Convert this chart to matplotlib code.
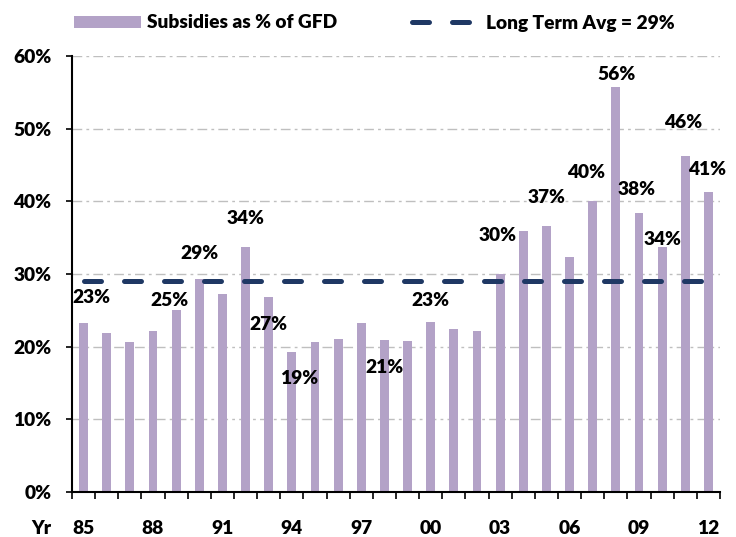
import matplotlib
matplotlib.use("Agg")
import matplotlib.pyplot as plt
import numpy as np
from matplotlib.lines import Line2D
from matplotlib.patches import Patch

years = list(range(1985, 2013))
subsidies = [23.2, 21.9, 20.6, 22.1, 25.0, 29.3, 27.2, 33.7, 26.9, 19.2,
             20.6, 21.0, 23.2, 20.9, 20.8, 23.4, 22.5, 22.1, 30.0, 35.9,
             36.6, 32.4, 40.0, 55.8, 38.4, 33.7, 46.3, 41.3]
long_term_avg = 29
label_years = [1985, 1989, 1990, 1992, 1993, 1994, 1998, 2000,
               2003, 2005, 2007, 2008, 2009, 2010, 2011, 2012]
tick_labels = ["85", "88", "91", "94", "97", "00", "03", "06", "09", "12"]

# where each value label sits: (x shift in bars, y level in %)
label_spots = {
    1985: (0.35, 26.7), 1989: (-0.3, 26.3), 1990: (0.0, 32.8),
    1992: (0.0, 37.6), 1993: (0.0, 23.1), 1994: (0.3, 15.6),
    1998: (0.0, 17.2), 2000: (0.0, 26.4), 2003: (-0.1, 35.3),
    2005: (0.0, 40.5), 2007: (-0.3, 44.0), 2008: (0.05, 57.5),
    2009: (-0.1, 41.6), 2010: (0.0, 34.7), 2011: (-0.1, 50.8),
    2012: (-0.05, 44.4),
}

plt.rcParams["font.family"] = ["Lato", "DejaVu Sans"]
fs = 13.8
wt = "heavy"
bar_color = "#B3A2C7"
line_color = "#1F3864"

fig = plt.figure(figsize=(7.36, 5.37), dpi=100)
ax = fig.add_axes([72 / 736, 45 / 537, 648 / 736, 436 / 537])

x = np.arange(len(years))
ax.bar(x, subsidies, width=0.38, color=bar_color, zorder=2)
ax.plot([x[0], x[-1]], [long_term_avg, long_term_avg], color=line_color,
        lw=3.6, dashes=(3.4, 4.6), dash_capstyle="round", zorder=3)

for yr in label_years:
    i = years.index(yr)
    dx, ly = label_spots[yr]
    ax.text(i + dx, ly, f"{subsidies[i]:.0f}%", ha="center", va="center",
            fontsize=fs, fontweight=wt, zorder=4)

ax.set_xlim(-0.5, len(years) - 0.5)
ax.set_ylim(0, 60)
ax.set_yticks(np.arange(0, 61, 10))
ax.set_yticklabels([f"{v}%" for v in range(0, 61, 10)], fontsize=fs, fontweight=wt)
ax.yaxis.grid(True, color="#BFBFBF", lw=1, linestyle=(0, (7, 3, 2, 3)), zorder=0)
ax.tick_params(axis="y", direction="out", length=4, width=1.2, pad=11)

xpad = 20.5
ax.set_xticks(x[::3])
ax.set_xticklabels(tick_labels, fontsize=fs, fontweight=wt)
ax.set_xticks(np.arange(-0.5, len(years), 1), minor=True)
ax.tick_params(axis="x", which="major", length=0, pad=xpad)
ax.tick_params(axis="x", which="minor", direction="out", length=5, width=1.2)
# "Yr" sits in line with the year tick labels
fig.text(41 / 736, 1 - (492 + xpad / 0.72) / 537, "Yr", fontsize=fs, fontweight=wt,
         ha="center", va="top")

for side in ["top", "right"]:
    ax.spines[side].set_visible(False)
for side in ["left", "bottom"]:
    ax.spines[side].set_linewidth(1.5)

handles = [
    Patch(facecolor=bar_color, edgecolor="none", label="Subsidies as % of GFD"),
    Line2D([0], [0], color=line_color, lw=3.6, dashes=(3.4, 4.6),
           dash_capstyle="round", label="Long Term Avg = 29%"),
]
fig.legend(handles=handles, loc="center left", bbox_to_anchor=(64 / 736, 1 - 23 / 537),
           ncol=2, frameon=False, prop={"size": fs, "weight": wt}, borderpad=0,
           handlelength=3.5, handleheight=0.6, handletextpad=0.35, columnspacing=3.9)

fig.savefig("out.png", dpi=100)
